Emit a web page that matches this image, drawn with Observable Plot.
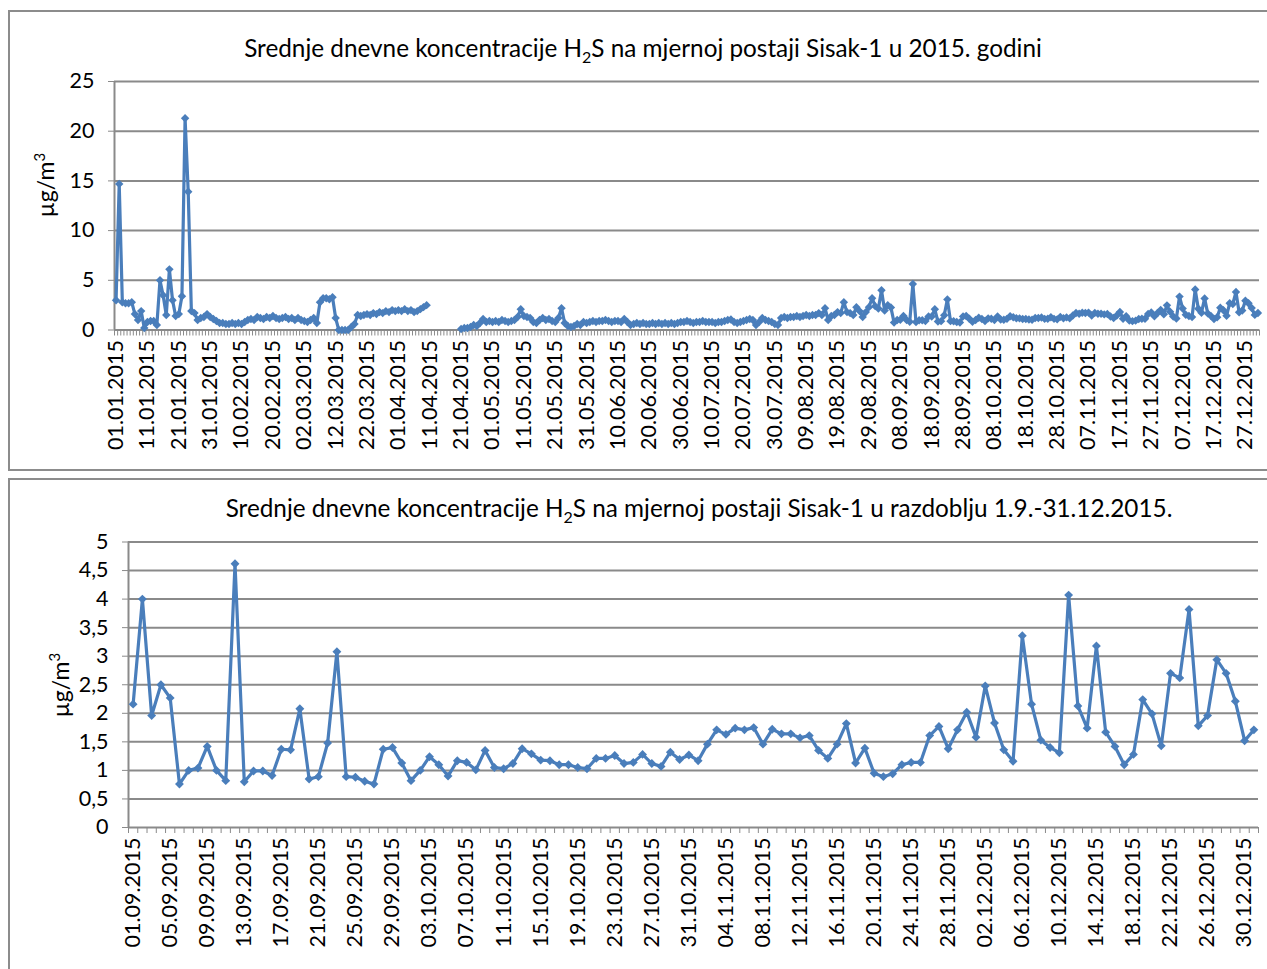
<!DOCTYPE html>
<html><head><meta charset="utf-8">
<script src="https://cdn.jsdelivr.net/npm/d3@7"></script>
<script src="https://cdn.jsdelivr.net/npm/@observablehq/plot@0.6"></script>
<style>
body{margin:0;width:1267px;height:969px;overflow:hidden;background:#fff;font-family:Lato,sans-serif;position:relative}
.panel{position:absolute;left:8px;width:1300px;border:2px solid #8c8c8c;box-sizing:border-box}
.title{position:absolute;white-space:nowrap;font-size:24.3px;color:#000;transform:translate(-50%,-50%);line-height:1}
.title sub{font-size:16px;vertical-align:-6px;line-height:0}
.ylab{position:absolute;font-size:23px;transform:translate(-50%,-50%) rotate(-90deg);white-space:nowrap;line-height:1}
.ylab sup{font-size:15px;vertical-align:9px;line-height:0}
.chart{position:absolute;left:0}
</style></head><body>
<div class="panel" style="top:10px;height:461px"></div>
<div class="panel" style="top:478px;height:520px"></div>
<div id="c1" class="chart" style="top:0"></div>
<div id="c2" class="chart" style="top:478px"></div>
<div class="title" style="left:643px;top:48px">Srednje dnevne koncentracije H<sub>2</sub>S na mjernoj postaji Sisak-1 u 2015. godini</div>
<div class="title" style="left:699px;top:508px">Srednje dnevne koncentracije H<sub>2</sub>S na mjernoj postaji Sisak-1 u razdoblju 1.9.-31.12.2015.</div>
<div class="ylab" style="left:45px;top:185px">µg/m<sup>3</sup></div>
<div class="ylab" style="left:60px;top:685px">µg/m<sup>3</sup></div>
<script>
// daily mean H2S, µg/m³, 2015 (null = no data)
const jan = [3.0,14.7,2.8,2.7,2.7,2.8,1.6,1.0,1.9,0.2, 0.8,0.9,0.9,0.5,5.0,3.5,1.5,6.1,3.0,1.4, 1.6,3.4,21.3,13.9,1.9,1.7,1.0,1.2,1.3,1.6, 1.3];
const feb = [1.1,0.9,0.7,0.7,0.6,0.6,0.7,0.6,0.7,0.6, 0.8,1.0,1.1,1.0,1.3,1.2,1.1,1.3,1.2,1.4, 1.2,1.1,1.2,1.3,1.1,1.2,1.0,1.2];
const mar = [1.0,0.9,0.8,1.0,1.2,0.7,2.8,3.2,3.2,3.1, 3.3,1.2,0.0,0.0,0.0,0.0,0.3,0.6,1.5,1.4, 1.5,1.6,1.5,1.7,1.6,1.8,1.7,1.9,1.8,2.0, 1.9];
const apr = [2.0,1.9,2.1,1.9,2.0,1.8,1.9,2.1,2.3,2.5, null,null,null,null,null,null,null,null,null,null, 0.1,0.2,0.2,0.3,0.5,0.4,0.7,1.1,0.8,0.9];
const may = [0.8,0.9,0.8,1.0,0.9,0.8,0.9,1.0,1.3,2.1, 1.4,1.3,1.2,0.8,0.7,1.0,1.2,1.0,1.1,0.9, 0.8,1.2,2.2,0.7,0.4,0.3,0.4,0.6,0.5,0.8, 0.7];
const jun = [0.8,0.9,0.8,0.9,0.9,1.0,0.9,0.8,0.9,0.9, 0.8,1.1,0.8,0.5,0.6,0.7,0.6,0.7,0.6,0.6, 0.7,0.6,0.7,0.6,0.7,0.6,0.7,0.6,0.7,0.8];
const jul = [0.8,0.9,0.8,0.7,0.8,0.8,0.9,0.8,0.8,0.8, 0.7,0.8,0.8,0.9,1.0,1.05,0.8,0.7,0.8,0.9, 1.0,1.1,1.0,0.5,0.8,1.2,1.0,0.9,0.8,0.6, 0.5];
const aug = [1.2,1.3,1.2,1.3,1.3,1.4,1.3,1.4,1.5,1.4, 1.5,1.5,1.7,1.5,2.2,1.0,1.4,1.5,1.8,1.7, 2.8,1.8,1.7,1.5,2.3,1.9,1.3,1.8,2.3,3.2, 2.4];
const sep = [2.16,4.0,1.96,2.50,2.27,0.76,1.0,1.04,1.42,1.0, 0.82,4.62,0.80,0.99,0.99,0.91,1.37,1.36,2.08,0.85, 0.89,1.48,3.08,0.89,0.88,0.81,0.76,1.37,1.40,1.13];
const oct = [0.82,1.0,1.24,1.10,0.90,1.17,1.14,1.01,1.35,1.05, 1.03,1.12,1.38,1.29,1.18,1.17,1.10,1.10,1.05,1.03, 1.21,1.21,1.26,1.12,1.14,1.28,1.12,1.07,1.32,1.19, 1.27];
const nov = [1.17,1.46,1.71,1.63,1.74,1.71,1.75,1.46,1.72,1.64, 1.64,1.57,1.61,1.35,1.21,1.46,1.82,1.13,1.39,0.95, 0.89,0.94,1.10,1.14,1.14,1.61,1.77,1.38,1.71,2.02];
const dec = [1.58,2.48,1.83,1.36,1.16,3.36,2.16,1.53,1.40,1.31, 4.07,2.13,1.74,3.18,1.67,1.42,1.10,1.28,2.24,1.99, 1.43,2.70,2.62,3.82,1.78,1.96,2.94,2.70,2.21,1.52, 1.71];

const yTicksYear = [0,5,10,15,20,25];
const yTicksPeriod = [0,0.5,1,1.5,2,2.5,3,3.5,4,4.5,5];

const yearValues = [...jan,...feb,...mar,...apr,...may,...jun,...jul,...aug,...sep,...oct,...nov,...dec];
const periodValues = [...sep,...oct,...nov,...dec];
const days = d3.utcDays(new Date(Date.UTC(2015,0,1)), new Date(Date.UTC(2016,0,1)));
const fmt = d3.utcFormat("%d.%m.%Y");
const periodStart = jan.length+feb.length+mar.length+apr.length+may.length+jun.length+jul.length+aug.length;

const yearData = yearValues.map((v,i)=>({i, v}));
const periodData = periodValues.map((v,i)=>({i, v}));

const blue = "#4A7EBB";
const grid = "#8a8a8a";
const style = {fontFamily:"Lato, sans-serif", fontSize:"21.5px", color:"#000", background:"transparent", overflow:"visible"};

const n1 = yearValues.length;
const p1 = Plot.plot({
  width:1267, height:471,
  marginLeft:114, marginRight:8, marginTop:81, marginBottom:141.5,
  style,
  x:{type:"linear", domain:[-0.5, n1-0.5]},
  y:{domain:[0,25]},
  marks:[
    Plot.ruleY(yTicksYear, {stroke:grid, strokeWidth:2}),
    Plot.ruleX([-0.5], {stroke:grid, strokeWidth:2}),
    Plot.axisY({ticks:yTicksYear, tickSize:6, tickPadding:14, stroke:grid, fill:"#000", label:null}),
    Plot.axisX({ticks:d3.range(-0.5, n1, 1), tickSize:6, stroke:grid, tickFormat:()=>"", label:null}),
    Plot.axisX({ticks:d3.range(0, n1, 10), tickSize:0, tickPadding:10, tickRotate:-90, fill:"#000", tickFormat:i=>fmt(days[i]), label:null}),
    Plot.line(yearData, {x:"i", y:"v", stroke:blue, strokeWidth:3.2}),
    Plot.dot(yearData, {x:"i", y:"v", symbol:"diamond2", r:3.8, fill:blue, stroke:null})
  ]
});
document.getElementById("c1").append(p1);

const n2 = periodValues.length;
const p2 = Plot.plot({
  width:1267, height:491,
  marginLeft:128, marginRight:9, marginTop:63.5, marginBottom:142,
  style,
  x:{type:"linear", domain:[-0.5, n2-0.5]},
  y:{domain:[0,5]},
  marks:[
    Plot.ruleY(yTicksPeriod, {stroke:grid, strokeWidth:2}),
    Plot.ruleX([-0.5], {stroke:grid, strokeWidth:2}),
    Plot.axisY({ticks:yTicksPeriod, tickSize:6, tickPadding:14, stroke:grid, fill:"#000", tickFormat:d=>String(d).replace(".",","), label:null}),
    Plot.axisX({ticks:d3.range(-0.5, n2, 1), tickSize:6, stroke:grid, tickFormat:()=>"", label:null}),
    Plot.axisX({ticks:d3.range(0, n2, 4), tickSize:0, tickPadding:10, tickRotate:-90, fill:"#000", tickFormat:i=>fmt(days[periodStart+i]), label:null}),
    Plot.line(periodData, {x:"i", y:"v", stroke:blue, strokeWidth:3.2}),
    Plot.dot(periodData, {x:"i", y:"v", symbol:"diamond2", r:4, fill:blue, stroke:null})
  ]
});
document.getElementById("c2").append(p2);
</script>
</body></html>
